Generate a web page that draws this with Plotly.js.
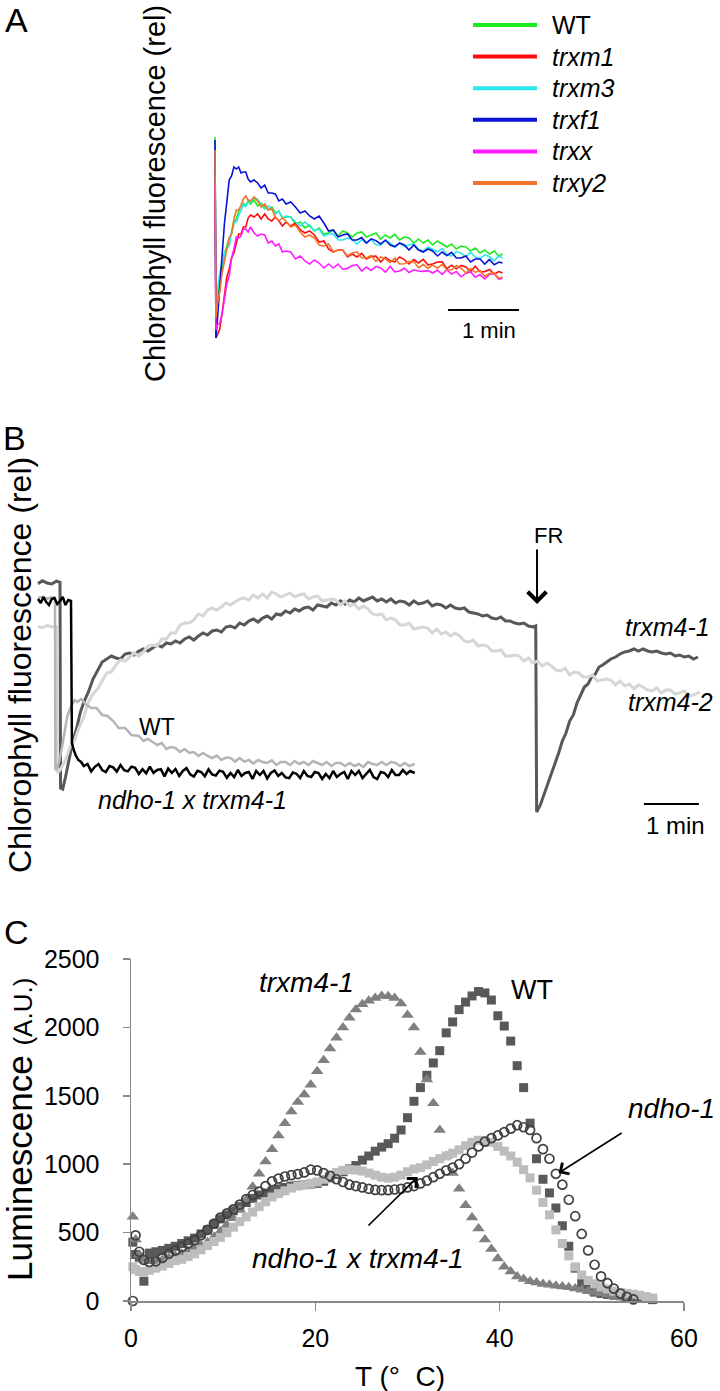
<!DOCTYPE html>
<html><head><meta charset="utf-8">
<script src="https://cdn.plot.ly/plotly-3.0.1.min.js"></script>
<style>html,body{margin:0;padding:0;background:#fff}#chart{width:720px;height:1391px}</style>
</head><body><div id="chart"></div>
<script>
// ---------- Panel A : chlorophyll fluorescence (relative), time in s ----------
const aNames = ['WT','trxm1','trxm3','trxf1','trxx','trxy2'];
const aColors = ['#1aeb1a','#ff0d0d','#2ae8ee','#0a12d6','#ff1aff','#f5732a'];
const aTime = [0,0.8,2,4,6,8,10,12,14,16,18,20,22,24,26,28,30,33,36,39,42,45,48,51,54,57,60,64,68,72,76,80,84,88,92,96,100,104,108,112,116,120,124,128,132,136,140,144,148,152,156,160,164,168,172,176,180,184,188,192,196,200,204,208,212,216,220,224,228,232,236,240,243];
const aWT = [106.5,17.5,25.5,33,40.5,48.5,52,56,58,63.5,65.5,69.5,70,73.5,72,74.5,73,75,72,73.5,71.5,70,71.5,68.5,69.5,66,66.5,66.5,63,64,61,62.5,59.5,61,58,58.5,60,57,59.5,58.5,56.5,58.5,59,56.5,57.5,58.5,55.5,57.5,56,57.8,55,56.5,56,53.5,55.5,53.5,55,52.5,54.5,53,51.5,53,50.5,52,51.5,49.5,51,48.5,50,48,49.5,47,48];
const aTrxm1 = [101,6,7.5,10.5,18.5,26.5,36.5,40.5,46,48.5,54,58,58,61.5,61.5,66,67.5,66.5,68,65.5,68,65.5,64.5,66.5,64.5,62,64,62,63.5,60,58.5,59.5,57.5,54,54.5,50.5,49,50,50,46.5,48,46.5,48.3,45.5,46.7,46.9,44,46.4,44.7,44.1,46.5,45.2,43,45.2,43.5,45.3,42.6,43,44,44.1,40.7,42.4,40.6,42.3,41.5,39.2,41.9,39.1,39.2,40.3,38,39.2,38.5];
const aTrxm3 = [102.5,22.5,29.5,38.5,43,48,51,52,59,64,64,67,70.5,73,71.5,75,74,76,75.5,72.5,70.5,72,70.5,68,69.5,66,67,66.5,64,62,64,62,59.5,60.5,57,58,58,55,55,56,55.2,52.9,55.2,53.5,55.3,52.6,52.5,54.7,53.5,51.3,53.5,51.7,52.5,53.2,50.4,49.5,51.5,50.5,49.1,50.7,47.8,47,49.2,48.4,46.6,48.8,46.5,45.7,47.5,46.8,44.6,47,46];
const aTrxf1 = [105,6,15,31,46,63.5,74,85,87,91.5,90.5,91.5,88.5,89,89,85.5,84,85,83.5,81,82.5,78.5,78.5,78,74.5,75.5,73,74,71.5,68.5,69.5,67,65.5,67,63.5,59.5,60,56.5,57.5,58,55,55,56.2,53.5,55.6,54.7,53,55,52.5,51.7,53.5,52.5,50,52.5,50,49,50.5,49.5,47,49,47.2,48.8,46,46,47,44,45.5,45.5,43,45.3,42.6,44,43.5];
const aTrxx = [84,10,12.5,13.5,18,26.5,33,37,46,50.5,56.5,56,57,60.5,60.5,59,61.5,58.5,57,58,57.5,53.5,54.5,52,53,49,49.5,49,45.5,47,44.5,43,45,43.5,41,43,41,43,40.4,40.8,42.2,42.6,39.5,41.5,39.8,41.7,41,38.9,41.8,39.1,39.5,40.9,38.7,40.1,39.5,39.3,39.7,38.5,39.9,37.8,40.1,38,39.3,36.6,38.3,39.1,36.4,37.7,35.5,37.8,38.1,35.4,36];
const aTrxy2 = [100,16,23,29,38.5,45,50.5,56,58.5,65.5,70,70,72.5,75.5,77,75,74.5,76.5,74.5,71.5,73,70,70.5,66.5,64.5,66,64.5,61.5,62.5,59,56.5,57.5,56,52.5,52,53,49,50,50,47,48.5,49,46,46,47.2,44.3,46.5,45.6,43.8,45.9,43,43.1,44.2,44.3,41,42.7,40.9,42.5,40.9,42.8,40.1,40,42.2,40.9,38.5,40.7,38.8,39.8,36.8,38.3,38.3,35.8,36.5];
const aSeries = [aWT,aTrxm1,aTrxm3,aTrxf1,aTrxx,aTrxy2];
const aScaleBar = {start:197, seconds:60, level:20, label:'1 min'};

// ---------- Panel B : chlorophyll fluorescence (relative), time in s ----------
const bTimeM41 = [0,5,10,15,20,24,24.6,27,30,34,38,42,46,50,55,60,65,70,75,80,85,90,95,100,105,110,115,120,125,130,135,140,145,150,155,160,165,170,175,180,185,190,195,200,205,210,215,220,225,230,235,240,245,250,255,260,265,270,275,280,285,290,295,300,305,310,315,320,325,330,335,340,345,350,355,360,365,370,375,380,385,390,395,400,405,410,415,420,425,430,435,440,445,450,455,460,465,470,475,480,485,490,495,500,505,510,515,520,525,530,535,540,543,544,548,552,556,560,564,568,572,576,580,584,588,592,596,600,604,608,612,616,620,625,630,635,640,645,650,655,660,665,670,675,680,685,690,695,700,705,710,715,720];
const bTrxm41 = [118.2,119.6,118.5,118,119.4,118.8,16,15.5,21.5,30.5,39.5,45.5,53.5,59,64,70.5,75,79,80.5,82,81,80.5,83,83.5,82.5,84.5,85.5,84.5,86,87.5,86.5,88.5,88,89.5,88.5,90.5,91.5,90,92,93.5,92.5,94.5,95,94,96.5,97,96,98.5,97.5,99.5,100.5,99,101,102,100.5,103,102.5,104.5,103.5,105.5,104.5,106,106.5,105,107.5,107,106.5,108.5,107.5,109.5,108,110,109,111,109.5,110.5,111.5,109.5,110.5,109,110.5,108.5,109.5,109,107.5,109.5,108,108.5,109.5,107,108,107.5,106,107.5,106,105.5,106,104,103.5,103,102,102.5,101,100.5,101.5,99.5,99.5,98.5,98,98.5,97,96.5,97,4,7.5,12.5,17.5,22.5,28.5,33.5,39.5,43.5,49.5,52.5,58.5,62.5,66.5,68,71.5,73,76.5,77.5,79,80.5,81.5,83,84,84.5,85.5,84.5,85.5,84.5,84,84.5,83.5,83,83.5,82,82.5,81.5,82,80.5,81.5];
const bTimeM42 = [0,5,10,15,19,20.7,21,24,27,30,35,40,45,50,55,60,65,70,75,80,85,90,95,100,105,110,115,120,125,130,135,140,145,150,155,160,165,170,175,180,185,190,195,200,205,210,215,220,225,230,235,240,245,250,255,260,265,270,275,280,285,290,295,300,305,310,315,320,325,330,335,340,345,350,355,360,365,370,375,380,385,390,395,400,405,410,415,420,425,430,435,440,445,450,455,460,465,470,475,480,485,490,495,500,505,510,515,520,525,530,535,540,545,550,555,560,565,570,575,580,585,590,595,600,605,610,615,620,625,630,635,640,645,650,655,660,665,670,675,680,685,690,695,700,705,710,715,722];
const bTrxm42 = [96.8,96.2,97.2,96.5,96.8,96.5,23.5,25,27.5,30,36.5,40,46.5,51.5,59,63,65.5,69.5,73.5,74,77.5,80,79.5,81.5,83.5,82,84,87,87.5,87,90.5,90.5,93.5,93.5,97.5,98.5,98.5,100,103,102,105,106,105,106.5,108.5,107.5,109,110.5,111,110,112.5,111,113,111,114,113,111.5,112.5,113.5,111.5,112.5,113,110.5,111.5,112,109.5,110,110.5,110,107.5,109.5,107,108,105.5,107,105.5,103,102.5,103,100,101,100,97.5,97.5,98.5,95.5,96,96.5,96,93.5,95.5,93,94,92,93.5,92,89.5,89,90,87,87.5,87,84.5,84.5,85,82,82,82.5,82,79.5,81,78.5,79.5,77,78.5,77,75,74.5,76,72.5,74,73.5,71.5,71.5,72.5,69.5,70,70.5,70,67.5,69.5,67,68,65.5,67.5,66.5,65,64.5,66,63.5,65,65,63,63.5,64.5,62,62.5,64];
const bTimeWT = [0,5,10,15,18.5,19,21,23,26,29,32,36,40,43,47,52,58,64,70,76,82,88,95,102,110,115,120,125,130,135,140,145,150,155,160,165,170,175,180,185,190,195,200,205,210,215,220,225,230,235,240,245,250,255,260,265,270,275,280,285,290,295,300,305,310,315,320,325,330,335,340,345,350,355,360,365,370,375,380,385,390,395,400,405,411];
const bWT = [111,111.6,110.7,111.4,111,25,26,29,36,45,52,57,60,59,60.5,58,56,56,52.5,52,49.5,46,46,42.5,42,39.5,40.5,39,37.5,38.5,35.5,36.5,36,34,35.5,33.5,34,32,33.5,32,31,32.2,30,31.2,31,29.2,31,29.2,30,28.2,30,29,28.5,29.8,27.5,29,29,27.5,29.5,28,29,27.5,29.5,28.5,27.5,29,27,28.5,28.5,27,28.5,27,28,26.5,29,28,27.5,29,27.5,29,28.5,27,28.5,27,28];
const bTimeDbl = [0,3,6,9,12,15,18,21,24,27,30,33,36,37,39,41,44,47,50,54,58,62,66,70,74,78,82,86,90,94,98,102,106,110,114,118,122,126,130,134,138,142,146,150,154,158,162,166,170,174,178,182,186,190,194,198,202,206,210,214,218,222,226,230,234,238,242,246,250,254,258,262,266,270,274,278,282,286,290,294,298,302,306,310,314,318,322,326,330,334,338,342,346,350,354,358,362,366,370,374,378,382,386,390,394,398,402,406,411];
const bDbl = [110.5,108.5,111.5,109,107.5,110.5,111,108,109.5,111.5,107.5,110,109.5,38.5,35,32.5,30,29,27,28,24.3,26.6,28,25,24,27,26.3,24.2,27.5,24.9,24.3,26.7,26.1,23,25.4,23.3,26.7,23.6,25,25.4,21.8,25.7,23.6,25.5,22,24.5,25.9,22.8,21.7,24.6,24,21.9,25.3,22.8,22.2,24.7,24.1,21.1,23.5,21.5,25,22,23.5,24,20.5,24.5,22.5,24.5,20.8,23.5,24.8,22,23.5,21.3,20.9,23.7,23.1,21,24.5,22,21.5,24,23.5,20.5,23,21,24.5,21.5,23,24,20.5,24.5,22.5,24.5,21,23,25,21.5,20.5,24,23.5,21.5,25,22.5,22.5,25,23,24.5,23.5];
const bScaleBar = {start:661, seconds:60, level:8, label:'1 min'};
const bFR = {time:544.4, from:136, to:108, label:'FR'};

// ---------- Panel C : thermoluminescence ----------
const cTemp = [0.2,0.5,0.9,1.4,2.0,2.7,3.4,4.1,4.8,5.5,6.2,6.9,7.6,8.3,9.0,9.7,10.4,11.1,11.8,12.5,13.2,13.9,14.6,15.3,16.0,16.7,17.4,18.1,18.8,19.5,20.2,20.9,21.6,22.3,23.0,23.7,24.4,25.1,25.8,26.5,27.2,27.9,28.6,29.3,30.0,30.7,31.4,32.1,32.8,33.5,34.2,34.9,35.6,36.3,37.0,37.7,38.4,39.1,39.8,40.5,41.2,41.9,42.6,43.3,44.0,44.7,45.4,46.1,46.8,47.5,48.2,48.9,49.6,50.3,51.0,51.7,52.4,53.1,53.8,54.5,55.2,55.9,56.6];
const cWT = [430,340,320,145,350,360,370,385,400,420,440,460,490,520,560,600,630,660,690,720,750,775,790,805,820,830,840,845,850,855,860,875,900,925,945,965,990,1030,1060,1095,1125,1150,1190,1250,1340,1460,1560,1650,1740,1830,1960,2040,2130,2185,2230,2262,2252,2200,2085,2010,1900,1720,1560,1300,1040,890,790,680,550,400,240,130,85,65,55,48,42,38,34,30,25,18,10];
const cTrxm41 = [615,450,340,300,290,290,300,315,330,345,365,385,405,430,470,510,555,605,665,740,835,930,1020,1110,1210,1300,1385,1455,1510,1580,1680,1760,1845,1925,2000,2070,2130,2170,2195,2215,2230,2228,2215,2175,2090,2000,1820,1620,1445,1250,1060,935,820,700,610,530,450,380,310,250,215,180,160,145,135,125,118,112,106,100,92,82,72,62,54,45,36,28,22];
const cDbl = [250,230,215,215,225,240,255,275,295,305,325,345,375,405,435,465,500,540,580,615,650,690,725,760,785,805,825,840,850,860,870,890,915,940,955,960,958,950,935,920,905,898,905,920,945,965,975,995,1020,1040,1060,1080,1105,1135,1160,1175,1170,1160,1130,1095,1060,1015,960,900,810,720,630,520,420,330,250,190,150,125,103,88,72,62,56,50,42,32,22];
const cNdho = [0,480,360,300,285,290,315,345,370,395,420,445,480,520,565,610,640,670,705,745,775,800,840,875,895,910,920,928,940,960,955,935,915,890,870,850,840,830,820,812,810,810,815,820,830,840,860,880,905,930,955,975,1000,1040,1085,1130,1165,1190,1210,1235,1260,1285,1270,1250,1190,1110,1040,930,850,740,620,490,370,265,180,130,90,55,30,12];

// ---------- helpers (layout positions only) ----------
const W = 720, H = 1391;
const px = v => v / W, py = v => 1 - v / H;
const F = 'Liberation Sans, Arial, Helvetica, sans-serif';

const traces = [];
aSeries.forEach((ys, i) => traces.push({
  x: aTime, y: ys, type: 'scatter', mode: 'lines', name: aNames[i],
  line: {color: aColors[i], width: 1.6}, xaxis: 'x', yaxis: 'y', hoverinfo: 'skip'
}));
[[bTimeM41, bTrxm41, '#585858', 'trxm4-1', 3], [bTimeM42, bTrxm42, '#d6d6d6', 'trxm4-2', 3],
 [bTimeWT, bWT, '#b5b5b5', 'WT', 2.5], [bTimeDbl, bDbl, '#000000', 'ndho-1 x trxm4-1', 2.5]].forEach(s => traces.push({
  x: s[0], y: s[1], type: 'scatter', mode: 'lines', name: s[3],
  line: {color: s[2], width: s[4]}, xaxis: 'x2', yaxis: 'y2', hoverinfo: 'skip'
}));
traces.push({x: cTemp, y: cWT, type: 'scatter', mode: 'markers', name: 'WT', xaxis: 'x3', yaxis: 'y3', cliponaxis: false,
  marker: {symbol: 'square', size: 9, color: '#595959'}});
traces.push({x: cTemp, y: cTrxm41, type: 'scatter', mode: 'markers', name: 'trxm4-1', xaxis: 'x3', yaxis: 'y3', cliponaxis: false,
  marker: {symbol: 'triangle-up', size: 11, color: '#808080'}});
traces.push({x: cTemp, y: cDbl, type: 'scatter', mode: 'markers', name: 'ndho-1 x trxm4-1', xaxis: 'x3', yaxis: 'y3', cliponaxis: false,
  marker: {symbol: 'square', size: 9, color: '#bdbdbd'}});
traces.push({x: cTemp, y: cNdho, type: 'scatter', mode: 'markers', name: 'ndho-1', xaxis: 'x3', yaxis: 'y3', cliponaxis: false,
  marker: {symbol: 'circle-open', size: 9, color: '#404040', line: {width: 1.7, color: '#404040'}}});

const ann = [];
const txt = (text, x, y, size, opts) => ann.push(Object.assign({text, x, y, showarrow: false,
  xanchor: 'center', yanchor: 'middle', font: {family: F, size, color: '#000'}}, opts || {}));
const P = {xref: 'paper', yref: 'paper'};
// panel letters
txt('A', px(16), 1, 34, Object.assign({yanchor: 'top', borderpad: 0}, P));
txt('B', px(14), py(438), 34, P);
txt('C', px(16), py(932), 34, P);
// axis titles
txt('Chlorophyll fluorescence (rel)', px(155), py(194), 29, Object.assign({textangle: -90}, P));
txt('Chlorophyll fluorescence (rel)', px(20), py(665), 32, Object.assign({textangle: -90}, P));
txt('Luminescence <span style="font-size:26px">(A.U.)</span>', px(19), py(1130), 35, Object.assign({textangle: -90}, P));
txt('T (°\u00a0\u00a0C)', px(400), py(1376), 28, P);
// panel A legend
const shapes = [];
aNames.forEach((n, i) => {
  const yy = py(25 + i * 31.6);
  shapes.push({type: 'line', xref: 'paper', yref: 'paper', x0: px(473), x1: px(537), y0: yy, y1: yy,
    line: {color: aColors[i], width: 4}});
  txt(i === 0 ? n : '<i>' + n + '</i>', px(550), yy, 25, Object.assign({xanchor: 'left'}, P));
});
// scale bars
shapes.push({type: 'line', xref: 'x', yref: 'y', x0: aScaleBar.start, x1: aScaleBar.start + aScaleBar.seconds,
  y0: aScaleBar.level, y1: aScaleBar.level, line: {color: '#000', width: 2}});
txt(aScaleBar.label, aScaleBar.start + 35, aScaleBar.level - 10, 22, {xref: 'x', yref: 'y'});
shapes.push({type: 'line', xref: 'x2', yref: 'y2', x0: bScaleBar.start, x1: bScaleBar.start + bScaleBar.seconds,
  y0: bScaleBar.level, y1: bScaleBar.level, line: {color: '#000', width: 2}});
txt(bScaleBar.label, bScaleBar.start + 34, bScaleBar.level - 10.5, 24, {xref: 'x2', yref: 'y2'});
// panel B labels
txt('<i>trxm4-1</i>', 687, 96.5, 25, {xref: 'x2', yref: 'y2'});
txt('<i>trxm4-2</i>', 689.5, 59, 25, {xref: 'x2', yref: 'y2'});
txt('WT', 129.8, 46.5, 23, {xref: 'x2', yref: 'y2'});
txt('<i>ndho-1 x trxm4-1</i>', 168, 10, 25, {xref: 'x2', yref: 'y2'});
txt(bFR.label, px(548), py(535), 22, P);
ann.push({text: '', xref: 'x2', yref: 'y2', axref: 'x2', ayref: 'y2', x: bFR.time, y: bFR.to, ax: bFR.time, ay: bFR.from,
  showarrow: true, arrowhead: 4, arrowsize: 1.8, arrowwidth: 2, arrowcolor: '#000', standoff: 0, startstandoff: 0});
// panel C labels
txt('<i>trxm4-1</i>', 19, 2325, 28, {xref: 'x3', yref: 'y3'});
txt('WT', 43.5, 2273, 27, {xref: 'x3', yref: 'y3'});
txt('<i>ndho-1</i>', px(717), py(1108), 28, Object.assign({xanchor: 'right'}, P));
txt('<i>ndho-1 x trxm4-1</i>', 24.6, 314, 28, {xref: 'x3', yref: 'y3'});
ann.push({text: '', xref: 'x3', yref: 'y3', axref: 'x3', ayref: 'y3', x: 46.4, y: 936, ax: 53.4, ay: 1235,
  showarrow: true, arrowhead: 4, arrowsize: 1.6, arrowwidth: 1.6, arrowcolor: '#000', standoff: 0, startstandoff: 0});
ann.push({text: '', xref: 'x3', yref: 'y3', axref: 'x3', ayref: 'y3', x: 31.1, y: 906, ax: 25.6, ay: 541,
  showarrow: true, arrowhead: 4, arrowsize: 1.6, arrowwidth: 1.6, arrowcolor: '#000', standoff: 0, startstandoff: 0});

const axC = {showgrid: false, zeroline: false, showline: true, linecolor: '#888', linewidth: 1.5,
  ticks: 'outside', tickcolor: '#888', tickwidth: 1.5, tickfont: {family: F, size: 25, color: '#000'}};
const layout = {
  width: W, height: H, margin: {l: 0, r: 0, t: 0, b: 0}, paper_bgcolor: '#fff', plot_bgcolor: 'rgba(0,0,0,0)',
  showlegend: false, font: {family: F},
  xaxis: {domain: [px(200), px(540)], range: [-12.68, 274.7], visible: false, anchor: 'y'},
  yaxis: {domain: [py(350), py(120)], range: [0, 115], visible: false, anchor: 'x'},
  xaxis2: {domain: [px(30), px(710)], range: [-8.73, 733.1], visible: false, anchor: 'y2'},
  yaxis2: {domain: [py(830), py(560)], range: [-5, 130], visible: false, anchor: 'x2'},
  xaxis3: Object.assign({}, axC, {domain: [px(131), px(684)], range: [0, 60], anchor: 'y3',
    tickvals: [0, 20, 40, 60], ticklen: 8, ticklabelstandoff: 6}),
  yaxis3: Object.assign({}, axC, {domain: [py(1301), py(959)], range: [0, 2500], anchor: 'x3',
    tickvals: [0, 500, 1000, 1500, 2000, 2500], ticklen: 7, ticklabelstandoff: 18}),
  shapes: shapes, annotations: ann
};
Plotly.newPlot('chart', traces, layout, {staticPlot: true, displayModeBar: false});
</script></body></html>
